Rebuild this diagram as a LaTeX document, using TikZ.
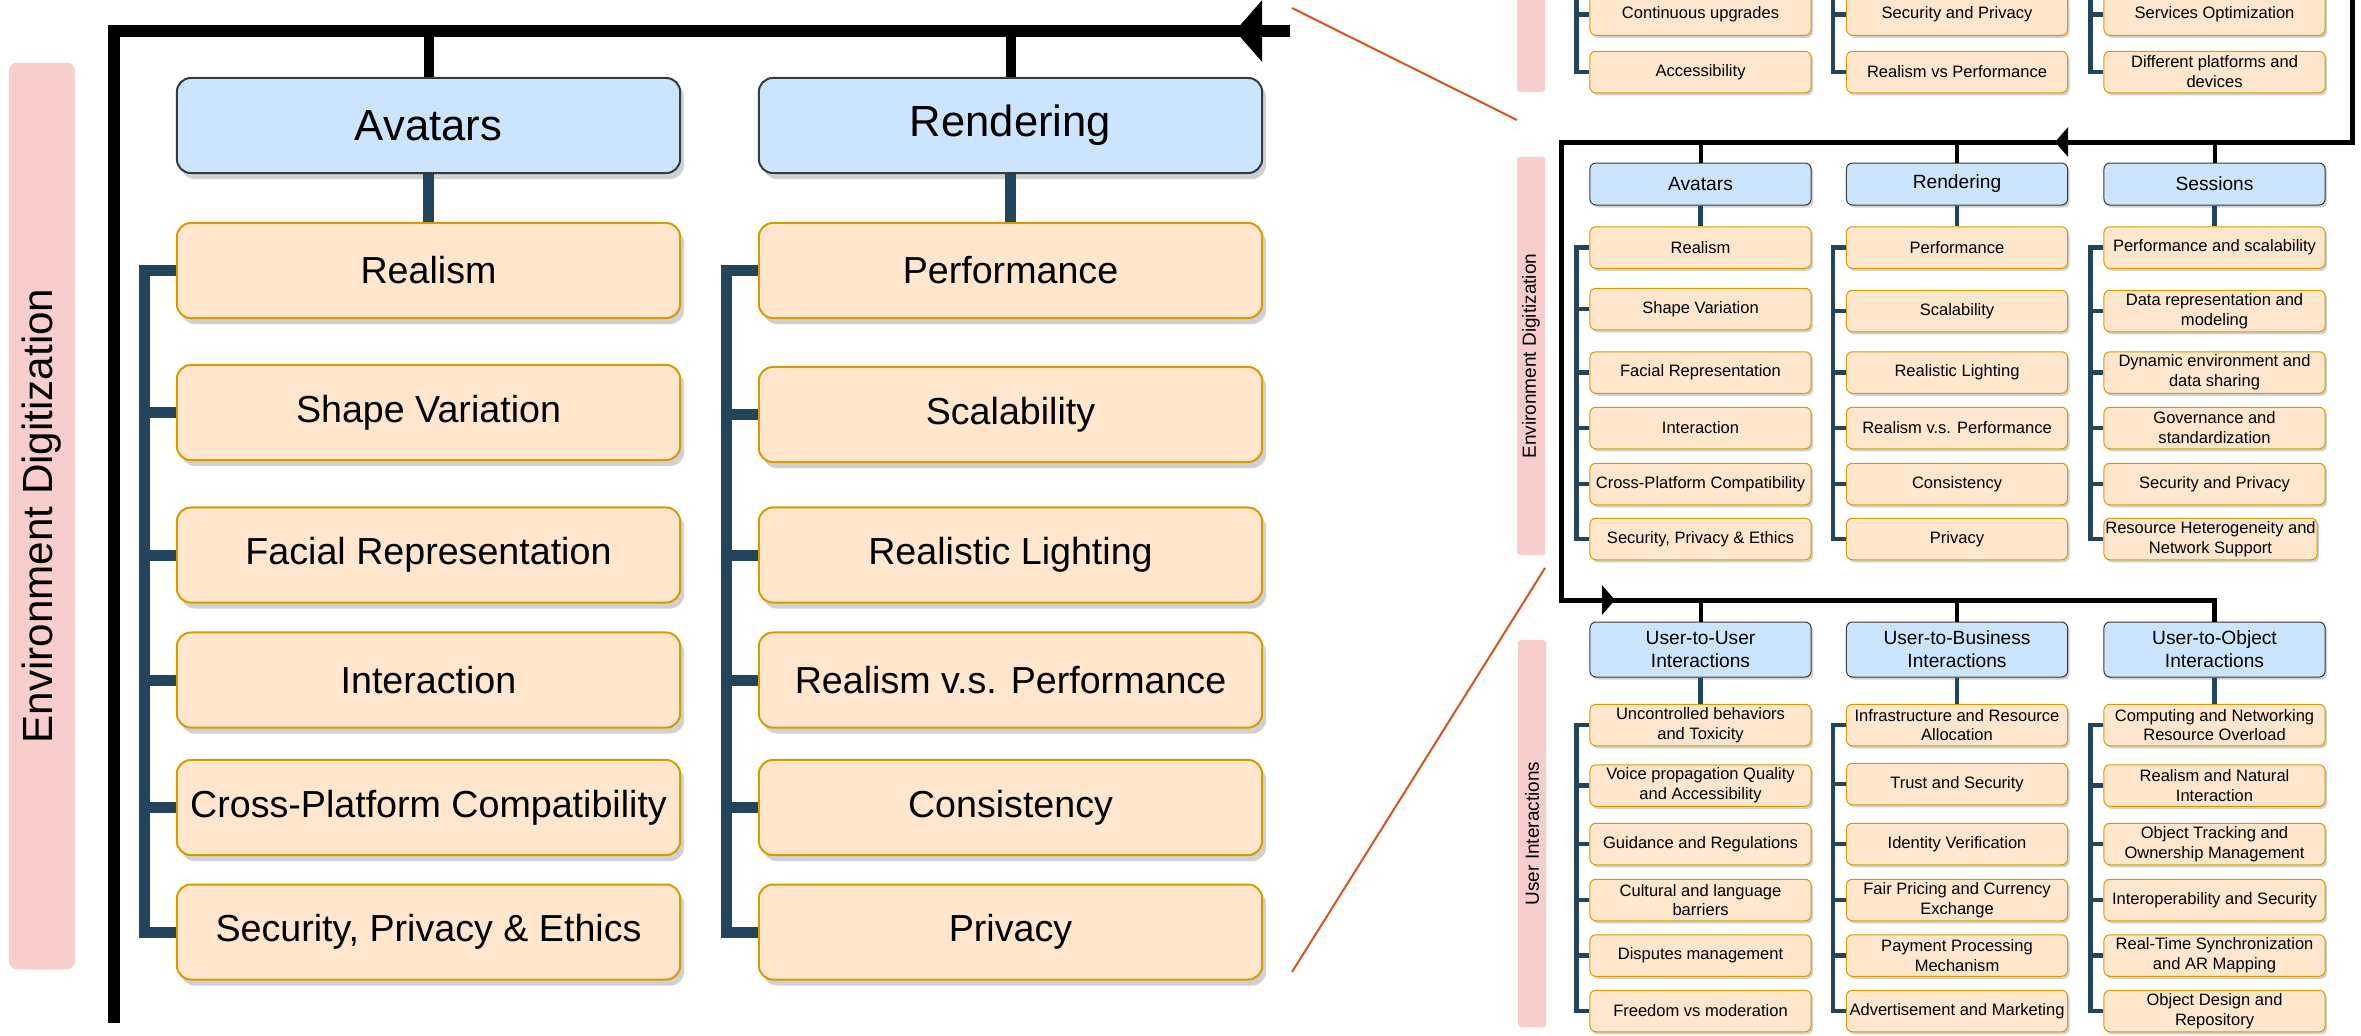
\documentclass[tikz,border=0pt]{standalone}
\usepackage{fontspec}
\setmainfont{Liberation Sans}
\usetikzlibrary{arrows.meta,shadows}

\definecolor{hdrfill}{HTML}{CCE5FF}
\definecolor{hdrline}{HTML}{36393D}
\definecolor{itmfill}{HTML}{FFE6CC}
\definecolor{itmline}{HTML}{D79B00}
\definecolor{lblfill}{HTML}{F8CECC}
\definecolor{branch}{HTML}{23445D}
\definecolor{zoomred}{RGB}{217,83,30}

\newcommand\bighdr{\fontsize{12.4}{14.9}\selectfont}
\newcommand\bigitm{\fontsize{10.7}{12.8}\selectfont}
\newcommand\biglbl{\fontsize{12}{14}\selectfont}
\newcommand\smhdr{\fontsize{5.45}{6.5}\selectfont}
\newcommand\smitm{\fontsize{4.7}{5.65}\selectfont}
\newcommand\smlbl{\fontsize{5.4}{6.5}\selectfont}

\begin{document}
\begin{tikzpicture}[x=0.01cm,y=-0.01cm,
    bigbox/.style={rounded corners=0.14cm,minimum width=5.03cm,minimum height=0.95cm,inner sep=0pt,align=center,line width=0.02cm,
        drop shadow={shadow xshift=0.04cm,shadow yshift=-0.06cm,opacity=0.3,fill=black!60}},
    smallbox/.style={rounded corners=0.06cm,minimum width=2.21cm,minimum height=0.415cm,inner sep=0pt,align=center,line width=0.01cm,
        drop shadow={shadow xshift=0.02cm,shadow yshift=-0.025cm,opacity=0.3,fill=black!60}},
    hdr/.style={fill=hdrfill,draw=hdrline},
    itm/.style={fill=itmfill,draw=itmline},
    lbl/.style={fill=lblfill,inner sep=0pt,rotate=90},
    mainbig/.style={draw=black,line width=0.12cm},
    mainsmall/.style={draw=black,line width=0.05cm},
    dropbig/.style={draw=black,line width=0.1cm},
    dropsmall/.style={draw=black,line width=0.04cm},
    brbig/.style={draw=branch,line width=0.11cm},
    brsmall/.style={draw=branch,line width=0.045cm},
    zoomln/.style={draw=zoomred,line width=0.02cm}]
    \useasboundingbox (0,0) rectangle (2361,1035);
    \clip (0,0) rectangle (2361,1035);

    % magnified part
    \node[lbl,rounded corners=0.08cm,minimum width=9.06cm,minimum height=0.66cm,font=\biglbl] (lenv) at (42,516) {Environment Digitization};
    \node[bigbox,hdr,font=\bighdr] (lav) at (428.5,125.5) {Avatars};
    \node[bigbox,hdr,font=\bighdr] (lre) at (1010.5,125.5) {Rendering};
    \node[bigbox,itm,font=\bigitm] (lav1) at (428.5,270.5) {Realism};
    \node[bigbox,itm,font=\bigitm] (lav2) at (428.5,412.5) {Shape Variation};
    \node[bigbox,itm,font=\bigitm] (lav3) at (428.5,555) {Facial Representation};
    \node[bigbox,itm,font=\bigitm] (lav4) at (428.5,680) {Interaction};
    \node[bigbox,itm,font=\bigitm] (lav5) at (428.5,807.5) {Cross-Platform Compatibility};
    \node[bigbox,itm,font=\bigitm] (lav6) at (428.5,932) {Security, Privacy \& Ethics};
    \node[bigbox,itm,font=\bigitm] (lre1) at (1010.5,270.5) {Performance};
    \node[bigbox,itm,font=\bigitm] (lre2) at (1010.5,414.5) {Scalability};
    \node[bigbox,itm,font=\bigitm] (lre3) at (1010.5,555) {Realistic Lighting};
    \node[bigbox,itm,font=\bigitm] (lre4) at (1010.5,680) {Realism v.s. Performance};
    \node[bigbox,itm,font=\bigitm] (lre5) at (1010.5,807.5) {Consistency};
    \node[bigbox,itm,font=\bigitm] (lre6) at (1010.5,932) {Privacy};

    \coordinate (lend) at (1290,31);
    \coordinate (ltip) at (1235,31);
    \coordinate (lcor) at (114,31);
    \coordinate (lbot) at (114,1023);
    \draw[mainbig] (lend) -- (lcor) -- (lbot);
    \draw[mainbig,-{Triangle[length=0.27cm,width=0.6cm]}] (lend) -- (ltip);
    \draw[dropbig] (lav.north) -- (lav.north |- lcor);
    \draw[dropbig] (lre.north) -- (lre.north |- lcor);
    \draw[brbig] (lav.south) -- (lav1.north);
    \draw[brbig] (lre.south) -- (lre1.north);
    \draw[brbig] (lav1.west) -- ++(-31.5,0) |- (lav6.west);
    \draw[brbig] (lre1.west) -- ++(-31.5,0) |- (lre6.west);
    \foreach \i in {2,...,5} {
        \draw[brbig] (lav\i.west) -- ++(-31.5,0);
        \draw[brbig] (lre\i.west) -- ++(-31.5,0);
    }

    % zoom lines
    \coordinate (za) at (1292,8);
    \coordinate (zb) at (1517,120);
    \coordinate (zc) at (1292,972);
    \coordinate (zd) at (1545,568);
    \draw[zoomln] (za) -- (zb);
    \draw[zoomln] (zc) -- (zd);

    % previous section (cut off)
    \fill[lblfill,rounded corners=0.03cm] (1517,-60) rectangle (1545,92);
    \node[smallbox,itm,font=\smitm] (cont) at (1700.5,14.5) {Continuous upgrades};
    \node[smallbox,itm,font=\smitm] (acc) at (1700.5,72) {Accessibility};
    \node[smallbox,itm,font=\smitm] (secp) at (1957,14.5) {Security and Privacy};
    \node[smallbox,itm,font=\smitm] (rvsp) at (1957,72) {Realism vs Performance};
    \node[smallbox,itm,font=\smitm] (servo) at (2214.5,14.5) {Services Optimization};
    \node[smallbox,itm,font=\smitm] (plat) at (2214.5,72) {Different platforms and\\devices};
    \draw[brsmall] (cont.west) -- ++(-13,0);
    \draw[brsmall] (secp.west) -- ++(-13,0);
    \draw[brsmall] (servo.west) -- ++(-13,0);
    \draw[brsmall] (acc.west) -- ++(-13,0) -- ++(0,-120);
    \draw[brsmall] (rvsp.west) -- ++(-13,0) -- ++(0,-120);
    \draw[brsmall] (plat.west) -- ++(-13,0) -- ++(0,-120);

    % environment digitization
    \node[lbl,rounded corners=0.03cm,minimum width=3.98cm,minimum height=0.28cm,font=\smlbl] (env) at (1531,356) {Environment Digitization};
    \node[smallbox,hdr,minimum height=0.42cm,font=\smhdr] (av) at (1700.5,184) {Avatars};
    \node[smallbox,hdr,minimum height=0.42cm,font=\smhdr] (re) at (1957,184) {Rendering};
    \node[smallbox,hdr,minimum height=0.42cm,font=\smhdr] (se) at (2214.5,184) {Sessions};
    \node[smallbox,itm,font=\smitm] (av1) at (1700.5,247.5) {Realism};
    \node[smallbox,itm,font=\smitm] (av2) at (1700.5,309) {Shape Variation};
    \node[smallbox,itm,font=\smitm] (av3) at (1700.5,372.5) {Facial Representation};
    \node[smallbox,itm,font=\smitm] (av4) at (1700.5,428) {Interaction};
    \node[smallbox,itm,font=\smitm] (av5) at (1700.5,484) {Cross-Platform Compatibility};
    \node[smallbox,itm,font=\smitm] (av6) at (1700.5,539) {Security, Privacy \& Ethics};
    \node[smallbox,itm,font=\smitm] (re1) at (1957,247.5) {Performance};
    \node[smallbox,itm,font=\smitm] (re2) at (1957,311) {Scalability};
    \node[smallbox,itm,font=\smitm] (re3) at (1957,372.5) {Realistic Lighting};
    \node[smallbox,itm,font=\smitm] (re4) at (1957,428) {Realism v.s. Performance};
    \node[smallbox,itm,font=\smitm] (re5) at (1957,484) {Consistency};
    \node[smallbox,itm,font=\smitm] (re6) at (1957,539) {Privacy};
    \node[smallbox,itm,font=\smitm] (se1) at (2214.5,247.5) {Performance and scalability};
    \node[smallbox,itm,font=\smitm] (se2) at (2214.5,311) {Data representation and\\modeling};
    \node[smallbox,itm,font=\smitm] (se3) at (2214.5,372.5) {Dynamic environment and\\data sharing};
    \node[smallbox,itm,font=\smitm] (se4) at (2214.5,428) {Governance and\\standardization};
    \node[smallbox,itm,font=\smitm] (se5) at (2214.5,484) {Security and Privacy};
    \node[smallbox,itm,minimum width=2.13cm,font=\smitm] (se6) at (2210.5,539) {Resource Heterogeneity and\\Network Support};

    % user interactions
    \node[lbl,rounded corners=0.03cm,minimum width=3.87cm,minimum height=0.28cm,font=\smlbl] (usr) at (1532,833.5) {User Interactions};
    \node[smallbox,hdr,minimum height=0.55cm,font=\smhdr] (uu) at (1700.5,649.5) {User-to-User\\Interactions};
    \node[smallbox,hdr,minimum height=0.55cm,font=\smhdr] (ub) at (1957,649.5) {User-to-Business\\Interactions};
    \node[smallbox,hdr,minimum height=0.55cm,font=\smhdr] (uo) at (2214.5,649.5) {User-to-Object\\Interactions};
    \node[smallbox,itm,font=\smitm] (uu1) at (1700.5,725) {Uncontrolled behaviors\\and Toxicity};
    \node[smallbox,itm,font=\smitm] (uu2) at (1700.5,785.5) {Voice propagation Quality\\and Accessibility};
    \node[smallbox,itm,font=\smitm] (uu3) at (1700.5,844) {Guidance and Regulations};
    \node[smallbox,itm,font=\smitm] (uu4) at (1700.5,900) {Cultural and language\\barriers};
    \node[smallbox,itm,font=\smitm] (uu5) at (1700.5,955.5) {Disputes management};
    \node[smallbox,itm,font=\smitm] (uu6) at (1700.5,1011) {Freedom vs moderation};
    \node[smallbox,itm,font=\smitm] (ub1) at (1957,725) {Infrastructure and Resource\\Allocation};
    \node[smallbox,itm,font=\smitm] (ub2) at (1957,784) {Trust and Security};
    \node[smallbox,itm,font=\smitm] (ub3) at (1957,844) {Identity Verification};
    \node[smallbox,itm,font=\smitm] (ub4) at (1957,900) {Fair Pricing and Currency\\Exchange};
    \node[smallbox,itm,font=\smitm] (ub5) at (1957,955.5) {Payment Processing\\Mechanism};
    \node[smallbox,itm,font=\smitm] (ub6) at (1957,1011) {Advertisement and Marketing};
    \node[smallbox,itm,font=\smitm] (uo1) at (2214.5,725) {Computing and Networking\\Resource Overload};
    \node[smallbox,itm,font=\smitm] (uo2) at (2214.5,785.5) {Realism and Natural\\Interaction};
    \node[smallbox,itm,font=\smitm] (uo3) at (2214.5,844) {Object Tracking and\\Ownership Management};
    \node[smallbox,itm,font=\smitm] (uo4) at (2214.5,900) {Interoperability and Security};
    \node[smallbox,itm,font=\smitm] (uo5) at (2214.5,955.5) {Real-Time Synchronization\\and AR Mapping};
    \node[smallbox,itm,font=\smitm] (uo6) at (2214.5,1011) {Object Design and\\Repository};

    % flow line
    \coordinate (rin) at (2352,-10);
    \coordinate (rc1) at (2352,142);
    \coordinate (rtip1) at (2055,142);
    \coordinate (rc2) at (1561,142);
    \coordinate (rc3) at (1561,600);
    \coordinate (rtip2) at (1615,600);
    \draw[mainsmall] (rin) -- (rc1) -- (rc2) -- (rc3) -- (uo.north |- rc3) -- (uo.north);
    \draw[mainsmall,-{Triangle[length=0.13cm,width=0.29cm]}] (rc1) -- (rtip1);
    \draw[mainsmall,-{Triangle[length=0.13cm,width=0.29cm]}] (rc3) -- (rtip2);
    \draw[dropsmall] (av.north) -- (av.north |- rc1);
    \draw[dropsmall] (re.north) -- (re.north |- rc1);
    \draw[dropsmall] (se.north) -- (se.north |- rc1);
    \draw[dropsmall] (uu.north) -- (uu.north |- rc3);
    \draw[dropsmall] (ub.north) -- (ub.north |- rc3);

    % branches
    \foreach \c in {av,re,se,uu,ub,uo} {
        \draw[brsmall] (\c.south) -- (\c1.north);
        \draw[brsmall] (\c1.west) -- ++(-13,0) |- (\c6.west);
        \foreach \i in {2,...,5}
            \draw[brsmall] (\c\i.west) -- ++(-13,0);
    }
\end{tikzpicture}
\end{document}
